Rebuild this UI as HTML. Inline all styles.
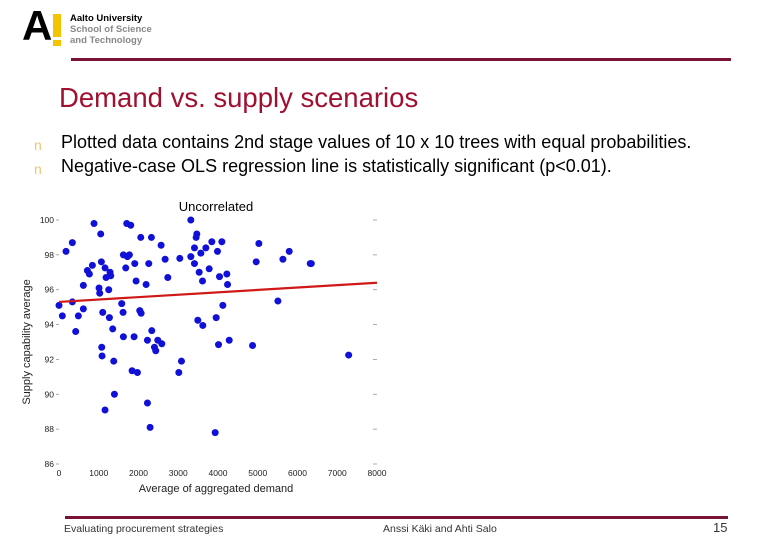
<!DOCTYPE html>
<html><head><meta charset="utf-8"><style>
body{margin:0;width:780px;height:540px;background:#fff;position:relative;overflow:hidden;font-family:"Liberation Sans",sans-serif}
.abs{position:absolute}
</style></head><body>
<div class="abs" style="left:22px;top:10px;width:150px;height:40px">
 <div class="abs" style="left:0;top:-8px;font:bold 42px 'Liberation Sans',sans-serif;color:#000">A</div>
 <div class="abs" style="left:31px;top:4px;width:8px;height:23px;background:#f2c500"></div>
 <div class="abs" style="left:31px;top:30px;width:8px;height:6px;background:#f2c500"></div>
 <div class="abs" style="left:48px;top:3px;font:bold 9.5px/11px 'Liberation Sans',sans-serif;color:#000">Aalto University<br><span style="color:#888">School of Science<br>and Technology</span></div>
</div>
<div class="abs" style="left:71px;top:58px;width:660px;height:3px;background:#7a1237"></div>
<div class="abs" style="left:59px;top:82px;font-size:27.5px;color:#a01030">Demand vs. supply scenarios</div>
<div class="abs" style="left:34px;top:137px;font-size:14px;color:#e8c870">n</div>
<div class="abs" style="left:61px;top:132px;font-size:18px;color:#000">Plotted data contains 2nd stage values of 10 x 10 trees with equal probabilities.</div>
<div class="abs" style="left:34px;top:161px;font-size:14px;color:#e8c870">n</div>
<div class="abs" style="left:61px;top:156px;font-size:18px;color:#000">Negative-case OLS regression line is statistically significant (p&lt;0.01).</div>

<svg class="abs" style="left:0;top:0" width="780" height="540" id="chart"></svg>

<div class="abs" style="left:65px;top:516px;width:663px;height:3px;background:#7a1237"></div>
<div class="abs" style="left:64px;top:523px;font-size:10.5px;color:#333">Evaluating procurement strategies</div>
<div class="abs" style="left:383px;top:523px;font-size:10.5px;color:#333">Anssi Käki and Ahti Salo</div>
<div class="abs" style="left:713px;top:520px;font-size:13px;color:#333">15</div>

<script>
const xs=[0,84,176,336,336,420,487,613,613,714,764,840,881,1007,1024,1049,1066,1075,1083,1100,1158,1184,1251,1268,1284,1301,1351,1377,1394,1158,1578,1612,1620,1620,1679,1704,1721,1771,1805,1839,1889,1906,1939,1973,2032,2057,2066,2191,2225,2225,2258,2292,2325,2334,2401,2434,2485,2586,2569,2670,2737,3014,3081,3039,3316,3316,3408,3408,3450,3467,3492,3526,3568,3610,3618,3694,3778,3845,3929,3954,3987,4013,4038,4097,4122,4223,4240,4282,4869,4961,5028,5507,5633,5792,6321,6347,7287];
const ys=[95.1,94.5,98.2,98.7,95.3,93.6,94.5,96.25,94.9,97.1,96.9,97.4,99.8,96.1,95.8,99.2,97.6,92.7,92.2,94.7,97.25,96.7,96.0,94.4,97.0,96.8,93.75,91.9,90.0,89.1,95.2,94.7,93.3,98.0,97.25,99.8,97.9,98.0,99.7,91.35,93.3,97.5,96.5,91.25,94.8,99.0,94.65,96.3,93.1,89.5,97.5,88.1,99.0,93.65,92.7,92.5,93.1,92.9,98.55,97.75,96.7,91.25,91.9,97.8,100,97.9,97.5,98.4,99.0,99.2,94.25,97.0,98.1,96.5,93.95,98.4,97.2,98.75,87.8,94.4,98.2,92.85,96.75,98.75,95.1,96.9,96.3,93.1,92.8,97.6,98.65,95.35,97.75,98.2,97.5,97.5,92.25];
const xTicks=[0,1000,2000,3000,4000,5000,6000,7000,8000];
const yTicks=[86,88,90,92,94,96,98,100];
const lineX=[0,8000];
const lineY=[95.3,96.4];
const NS="http://www.w3.org/2000/svg";
const svg=document.getElementById('chart');
const X=v=>59+v/8000*318;
const Y=v=>464-(v-86)/14*244;
function mk(t,a){const e=document.createElementNS(NS,t);for(const k in a)e.setAttribute(k,a[k]);svg.appendChild(e);return e;}
let t=mk('text',{x:216,y:211,'text-anchor':'middle','font-size':13,'font-family':'Liberation Sans, sans-serif'});t.textContent='Uncorrelated';


xTicks.forEach(v=>{const e=mk('text',{x:X(v),y:476,'text-anchor':'middle','font-size':8.5,fill:'#222','font-family':'Liberation Sans, sans-serif'});e.textContent=v;

});
yTicks.forEach(v=>{const e=mk('text',{x:54,y:Y(v)+3,'text-anchor':'end','font-size':8.5,fill:'#222','font-family':'Liberation Sans, sans-serif'});e.textContent=v;


const m=mk('line',{x1:56,x2:59,y1:Y(v),y2:Y(v),stroke:'#888','stroke-width':0.7});


const r=mk('line',{x1:373,x2:377,y1:Y(v),y2:Y(v),stroke:'#888','stroke-width':0.7});

});
t=mk('text',{x:216,y:492,'text-anchor':'middle','font-size':11,fill:'#222','font-family':'Liberation Sans, sans-serif'});t.textContent='Average of aggregated demand';


t=mk('text',{x:0,y:0,'text-anchor':'middle','font-size':11,fill:'#222','font-family':'Liberation Sans, sans-serif',transform:'translate(30,342) rotate(-90)'});t.textContent='Supply capability average';


xs.forEach((v,i)=>{const c=mk('circle',{cx:X(v),cy:Y(ys[i]),r:3.5,fill:'#1010d8'});

});
const l=mk('line',{x1:X(lineX[0]),y1:Y(lineY[0]),x2:X(lineX[1]),y2:Y(lineY[1]),stroke:'#d01818','stroke-width':2.2});


</script>
</body></html>
